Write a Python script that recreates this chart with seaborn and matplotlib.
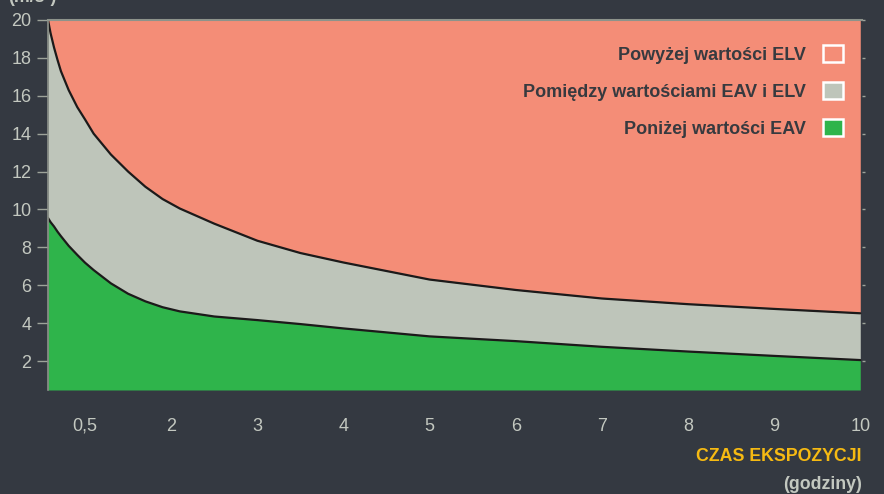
import matplotlib
matplotlib.use("Agg")
import matplotlib.pyplot as plt
import matplotlib.patches as mpatches
import seaborn as sns
import pandas as pd

# exposure time (hours) and limit curves
hours = [0.57, 0.6, 0.64, 0.68, 0.72, 0.81, 0.91, 1.0, 1.1, 1.3, 1.5, 1.7, 1.9, 2.1,
         2.5, 3.0, 3.5, 4, 5, 6, 7, 8, 9, 10]
elv = [20.0, 19.3, 18.55, 17.9, 17.3, 16.3, 15.4, 14.75, 14.0, 12.9, 12.0, 11.2, 10.55, 10.05,
       9.25, 8.35, 7.7, 7.2, 6.3, 5.75, 5.3, 5.0, 4.75, 4.52]
eav = [9.55, 9.33, 9.1, 8.83, 8.59, 8.08, 7.6, 7.19, 6.8, 6.1, 5.55, 5.15, 4.84, 4.62,
       4.35, 4.16, 3.95, 3.72, 3.3, 3.05, 2.75, 2.5, 2.27, 2.05]

tick_pos = [1, 2, 3, 4, 5, 6, 7, 8, 9, 10]
tick_labels = ["0,5", "2", "3", "4", "5", "6", "7", "8", "9", "10"]
y_ticks = [2, 4, 6, 8, 10, 12, 14, 16, 18, 20]

legend_labels = ["Powyżej wartości ELV", "Pomiędzy wartościami EAV i ELV", "Poniżej wartości EAV"]

BG = "#343941"
SALMON = "#F48D77"
GREY = "#BEC5BA"
GREEN = "#2FB44B"
TICK_COL = "#C3C8C0"

sns.set_style("dark", {"axes.facecolor": BG, "figure.facecolor": BG})
plt.rcParams["font.family"] = ["Liberation Sans", "DejaVu Sans"]

df = pd.DataFrame({"hours": hours, "elv": elv, "eav": eav})

fig = plt.figure(figsize=(8.84, 4.94), dpi=100)
ax = fig.add_axes([48 / 884, 1 - 390 / 494, 814 / 884, 370 / 494])

y_top, y_bot = 20, 0.47
ax.fill_between(df["hours"], df["elv"], y_top, color=SALMON, lw=0)
ax.fill_between(df["hours"], df["eav"], df["elv"], color=GREY, lw=0)
ax.fill_between(df["hours"], y_bot, df["eav"], color=GREEN, lw=0)

sns.lineplot(data=df, x="hours", y="elv", color="#1c1a1a", lw=1.6, ax=ax)
sns.lineplot(data=df, x="hours", y="eav", color="#1c1a1a", lw=1.6, ax=ax)

ax.set_xlim(0.57, 10.02)
ax.set_ylim(y_bot, y_top)
ax.set_xlabel("")
ax.set_ylabel("")

ax.set_xticks(tick_pos)
ax.set_xticklabels(tick_labels)
ax.set_yticks(y_ticks)
ax.tick_params(axis="x", length=0, pad=20, labelsize=13, labelcolor=TICK_COL)
ax.tick_params(axis="y", left=True, right=True, length=8, width=1, color="#9da39a",
               pad=4, labelsize=13, labelcolor=TICK_COL)
for t in ax.yaxis.get_major_ticks():
    t.tick2line.set_markersize(2)

for side in ["bottom", "right"]:
    ax.spines[side].set_visible(False)
ax.spines["left"].set_color("#8d938b")
ax.spines["left"].set_linewidth(1.2)
ax.spines["top"].set_color("#8d938b")
ax.spines["top"].set_linewidth(1.5)

handles = [mpatches.Patch(facecolor=c, edgecolor="white", linewidth=1.8)
           for c in [SALMON, GREY, GREEN]]
leg = ax.legend(handles, legend_labels, loc="upper right", markerfirst=False,
                frameon=False, bbox_to_anchor=(843 / 884, 1 - 45 / 494),
                bbox_transform=fig.transFigure, borderaxespad=0, borderpad=0,
                handlelength=1.1, handleheight=1.1, handletextpad=0.95,
                labelspacing=1.0, prop={"weight": "bold", "size": 13})
for txt in leg.get_texts():
    txt.set_color("#373a3f")

fig.text(862 / 884, 1 - 456 / 494, "CZAS EKSPOZYCJI", ha="right", va="center",
         color="#F6BA12", fontsize=12.8, fontweight="bold")
fig.text(862 / 884, 1 - 484 / 494, "(godziny)", ha="right", va="center",
         color=TICK_COL, fontsize=12.8, fontweight="bold")
fig.text(8 / 884, 1 + 3 / 494, "(m/s²)", ha="left", va="center",
         color=TICK_COL, fontsize=12.8, fontweight="bold")

fig.savefig("out.png", dpi=100, facecolor=BG)
